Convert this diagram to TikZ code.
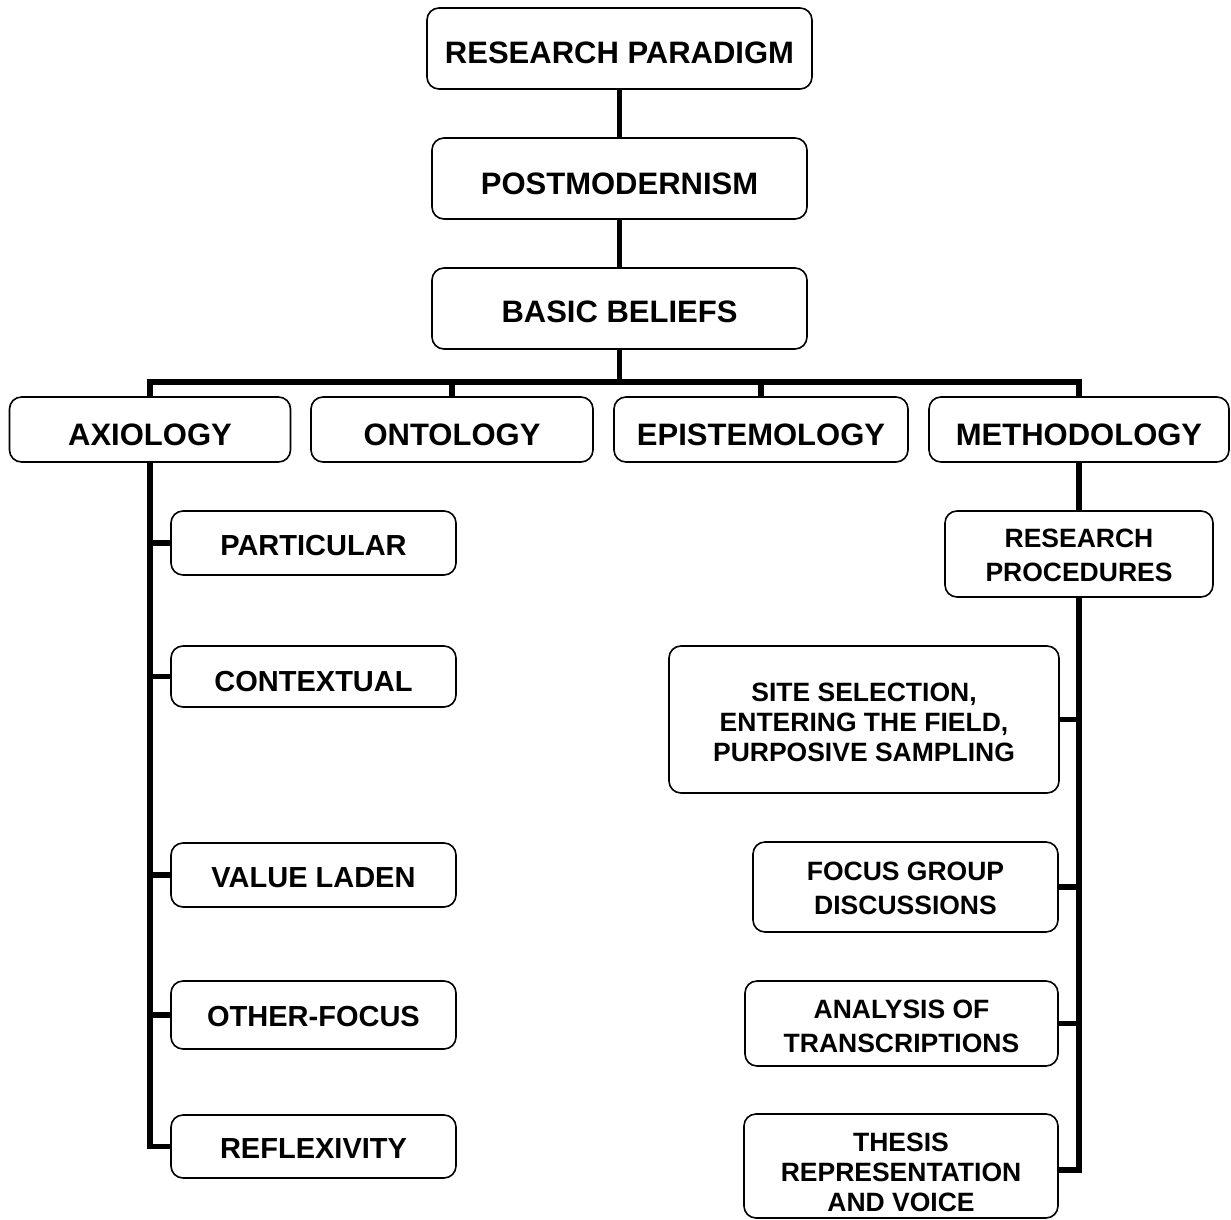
\documentclass[tikz,border=0pt]{standalone}
\usepackage{fontspec}
\setmainfont{Liberation Sans}
\newcommand\lbl[2]{\raisebox{-#1pt}[\height][\depth]{#2}}
\newcommand\mlbl[2]{\raisebox{-#1pt}[\height][\depth]{\begin{tabular}{@{}c@{}}#2\end{tabular}}}
\begin{document}
\begin{tikzpicture}[x=1pt,y=-1pt,
  box/.style={draw=black,line width=1.6pt,rounded corners=12pt,fill=white,inner sep=0pt,anchor=center},
  bigtxt/.style={font=\fontsize{31}{34}\selectfont\bfseries},
  midtxt/.style={font=\fontsize{29}{32}\selectfont\bfseries},
  smltxt/.style={font=\fontsize{26.5}{34}\selectfont\bfseries},
  tighttxt/.style={font=\fontsize{26.5}{30}\selectfont\bfseries},
  conn/.style={line width=5.5pt,line join=miter}]
\useasboundingbox (0,0) rectangle (1231,1220);
% top chain
\node[box,bigtxt,minimum width=385pt,minimum height=81pt] (rp) at (619.5,48.5) {\lbl{4.5}{RESEARCH PARADIGM}};
\node[box,bigtxt,minimum width=375pt,minimum height=81pt] (pm) at (619.5,178.5) {\lbl{5}{POSTMODERNISM}};
\node[box,bigtxt,minimum width=375pt,minimum height=81pt] (bb) at (619.5,308.5) {\lbl{3.5}{BASIC BELIEFS}};
% second row
\node[box,bigtxt,minimum width=281pt,minimum height=65pt] (ax) at (150,429.5) {\lbl{5}{AXIOLOGY}};
\node[box,bigtxt,minimum width=282pt,minimum height=65pt] (on) at (452,429.5) {\lbl{5}{ONTOLOGY}};
\node[box,bigtxt,minimum width=294pt,minimum height=65pt] (ep) at (761,429.5) {\lbl{5}{EPISTEMOLOGY}};
\node[box,bigtxt,minimum width=300pt,minimum height=65pt] (me) at (1079,429.5) {\lbl{5}{METHODOLOGY}};
\coordinate (bar) at (619.5,382);
% axiology column
\node[box,midtxt,minimum width=285pt,minimum height=64pt] (pa) at (313.5,543) {\lbl{3}{PARTICULAR}};
\node[box,midtxt,minimum width=285pt,minimum height=61pt] (co) at (313.5,676.5) {\lbl{5}{CONTEXTUAL}};
\node[box,midtxt,minimum width=285pt,minimum height=64pt] (vl) at (313.5,875) {\lbl{2.5}{VALUE LADEN}};
\node[box,midtxt,minimum width=285pt,minimum height=68pt] (of) at (313.5,1015) {\lbl{1.5}{OTHER-FOCUS}};
\node[box,midtxt,minimum width=285pt,minimum height=63pt] (re) at (313.5,1146.5) {\lbl{2.5}{REFLEXIVITY}};
% methodology column
\node[box,smltxt,minimum width=268pt,minimum height=86pt] (rpr) at (1079,554) {\mlbl{4}{RESEARCH\\PROCEDURES}};
\node[box,tighttxt,minimum width=390pt,minimum height=147pt] (ss) at (864,719.5) {\mlbl{6}{SITE SELECTION,\\ENTERING THE FIELD,\\PURPOSIVE SAMPLING}};
\node[box,smltxt,minimum width=305pt,minimum height=90pt] (fg) at (905.5,887) {\mlbl{3.7}{FOCUS GROUP\\DISCUSSIONS}};
\node[box,smltxt,minimum width=313pt,minimum height=85pt] (an) at (901.5,1023.5) {\mlbl{5.2}{ANALYSIS OF\\TRANSCRIPTIONS}};
\node[box,tighttxt,minimum width=314pt,minimum height=104pt] (th) at (901,1166) {\mlbl{9.5}{THESIS\\REPRESENTATION\\AND VOICE}};
% connectors
\draw[conn] (rp.south) -- (pm.north);
\draw[conn] (pm.south) -- (bb.north);
\draw[conn] (bb.south) -- (bar);
\draw[conn] (ax.north) -- (ax.north |- bar) -- (me.north |- bar) -- (me.north);
\draw[conn] (on.north |- bar) -- (on.north);
\draw[conn] (ep.north |- bar) -- (ep.north);
\draw[conn] (ax.south) -- (ax.south |- re.west) -- (re.west);
\draw[conn] (ax.south |- pa.west) -- (pa.west);
\draw[conn] (ax.south |- co.west) -- (co.west);
\draw[conn] (ax.south |- vl.west) -- (vl.west);
\draw[conn] (ax.south |- of.west) -- (of.west);
\draw[conn] (me.south) -- (rpr.north);
\coordinate (thc) at ([yshift=-4pt]th.east);
\draw[conn] (rpr.south) -- (rpr.south |- thc) -- (thc);
\draw[conn] (rpr.south |- ss.east) -- (ss.east);
\draw[conn] (rpr.south |- fg.east) -- (fg.east);
\draw[conn] (rpr.south |- an.east) -- (an.east);
\end{tikzpicture}
\end{document}
